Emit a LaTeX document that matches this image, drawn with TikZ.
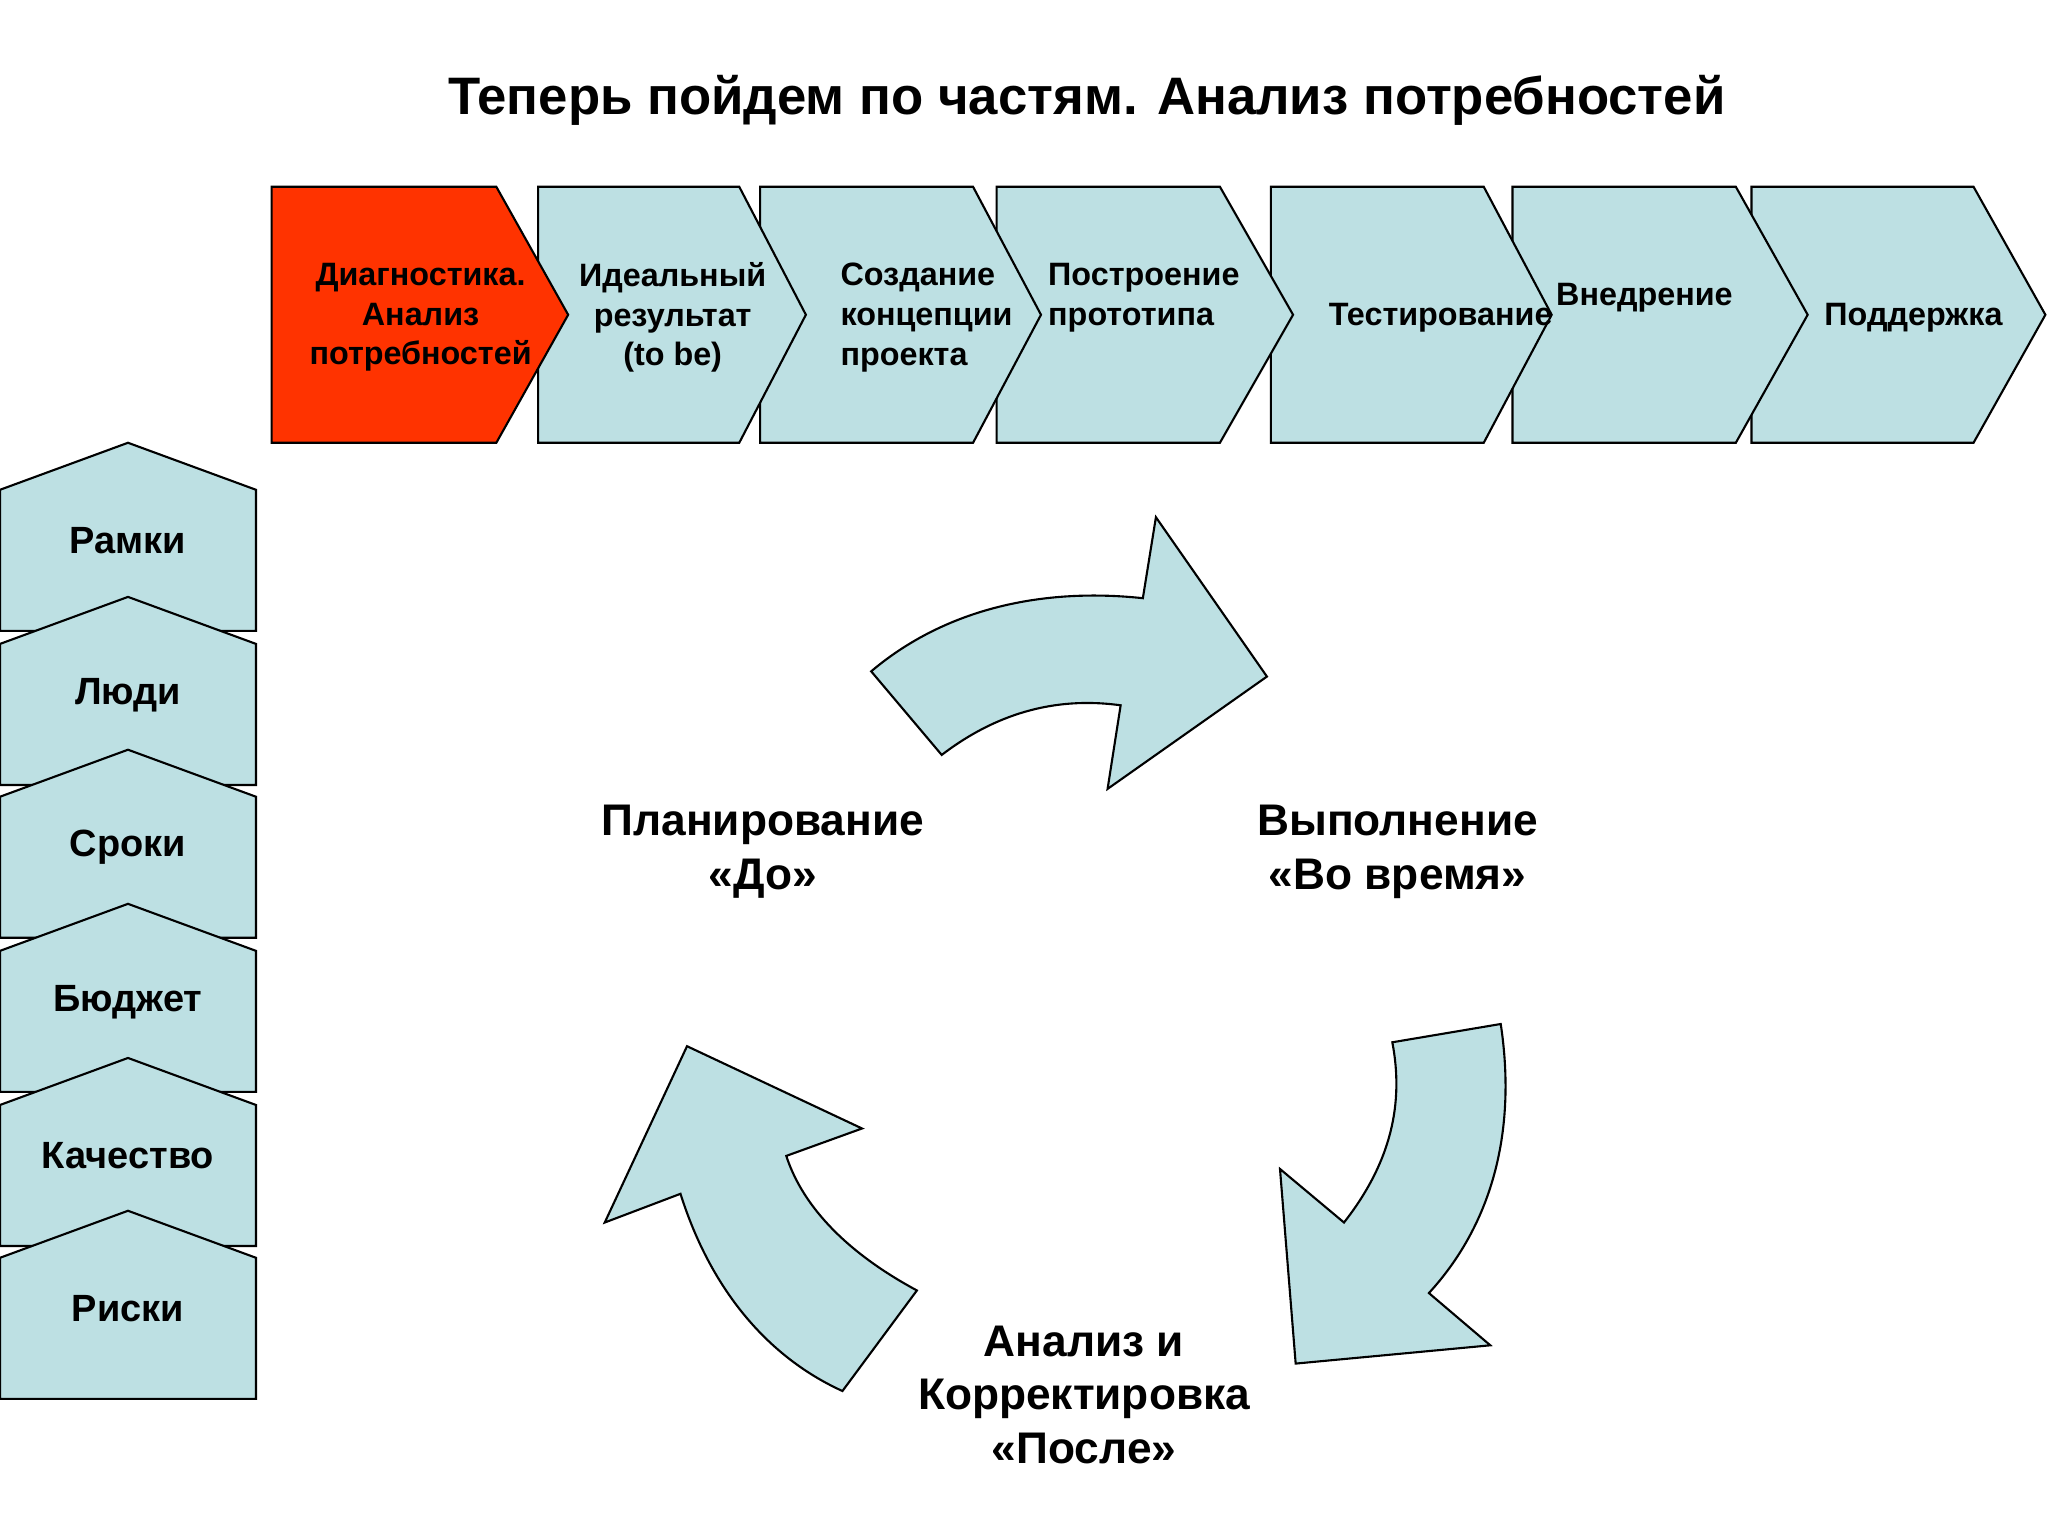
\documentclass[tikz,border=0pt]{standalone}
\usepackage{fontspec}
\setmainfont{Liberation Sans}
\definecolor{lb}{HTML}{BDE0E3}
\definecolor{rd}{HTML}{FF3300}
\begin{document}
\begin{tikzpicture}[x=0.013061cm,y=-0.013061cm,
  shp/.style={draw=black,fill=lb,line width=0.6pt,line join=miter},
  ctxt/.style={font=\bfseries\fontsize{9.2pt}{11.3pt}\selectfont,align=center,inner sep=0pt},
  stxt/.style={font=\bfseries\fontsize{10.8pt}{13pt}\selectfont,inner sep=0pt},
  btxt/.style={font=\bfseries\fontsize{12.6pt}{15.3pt}\selectfont,align=center,inner sep=0pt}]
\useasboundingbox (0,0) rectangle (1568,1176);
\fill[white] (0,0) rectangle (1568,1176);
\node[font=\bfseries\fontsize{15pt}{18pt}\selectfont,inner sep=0pt] (title) at (832,77) {Теперь пойдем по частям. Анализ потребностей};
% chevrons (last first)
\foreach \l/\r/\t in {1341/1511/1566,1158/1329/1384,973/1136/1188,763/934/990,582/745/797,412/566/617}
  \draw[shp] (\l,143) -- (\r,143) -- (\t,241) -- (\r,339) -- (\l,339) -- cycle;
\draw[shp,fill=rd] (208,143) -- (380,143) -- (435,241) -- (380,339) -- (208,339) -- cycle;
\node[ctxt] (c1) at (322,243) {Диагностика.\\Анализ\\потребностей};
\node[ctxt] (c2) at (515,243) {Идеальный\\результат\\(to be)};
\node[ctxt,align=left,anchor=west] (c3) at (643,243) {Создание\\концепции\\проекта};
\node[ctxt,align=left,anchor=west] (c4) at (802,228) {Построение\\прототипа};
\node[ctxt] (c5) at (1103,243) {Тестирование};
\node[ctxt] (c6) at (1259,228) {Внедрение};
\node[ctxt] (c7) at (1465,243) {Поддержка};
% left houses
\foreach \p/\txt [count=\i] in {339/Рамки,457/Люди,574/Сроки,692/Бюджет,810/Качество,927/Риски}{
  \draw[shp] (0,\p+36) -- (98,\p) -- (196,\p+36) -- (196,\p+144) -- (0,\p+144) -- cycle;
  \node[stxt] (h\i) at (98,\p+75) {\txt};
}
% curved arrows
\draw[shp] (667,514) .. controls (725,465) and (800,450) .. (875,458) -- (885,396) -- (970,518) -- (848,604) -- (858,540)
  .. controls (800,532) and (755,552) .. (721,578) -- cycle;
\draw[shp] (1066,798) -- (1149,784) .. controls (1162,870) and (1140,940) .. (1094,990) -- (1141,1030) -- (992,1044) -- (980,895) -- (1029,936)
  .. controls (1065,890) and (1075,845) .. cycle;
\draw[shp] (645,1065) -- (702,988) .. controls (650,960) and (615,925) .. (602,885) -- (660,864) -- (526,801) -- (463,936) -- (521,914)
  .. controls (545,990) and (590,1040) .. cycle;
\node[btxt] (plan) at (584,652) {Планирование\\«До»};
\node[btxt] (exec) at (1070,652) {Выполнение\\«Во время»};
\node[btxt] (anal) at (830,1068) {Анализ и\\Корректировка\\«После»};
\end{tikzpicture}
\end{document}
